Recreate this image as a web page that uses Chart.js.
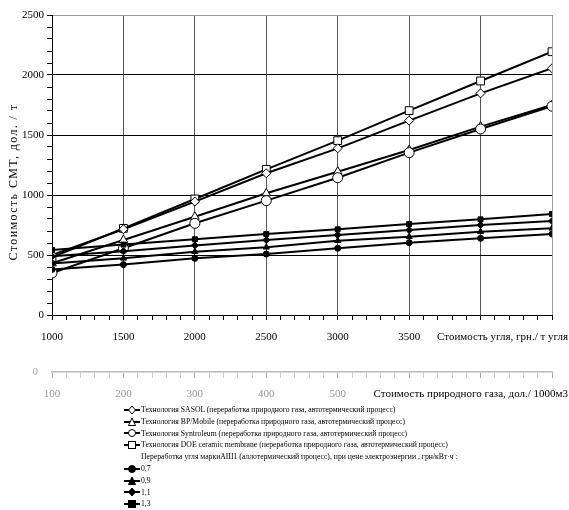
<!DOCTYPE html>
<html>
<head>
<meta charset="utf-8">
<script src="https://cdn.jsdelivr.net/npm/chart.js@4.4.1/dist/chart.umd.min.js"></script>
<style>
body { margin: 0; background: #fff; }
#wrap { position: relative; width: 569px; height: 510px; }
#legend { position: absolute; left: 124px; top: 404px; font-family: "Liberation Serif", serif; font-size: 7.7px; line-height: 11.8px; color: #000; white-space: nowrap; }
#legend .row { height: 11.8px; display: flex; align-items: center; }
#legend svg { margin-right: 1px; }
#legend .head { padding-left: 17px; }
</style>
</head>
<body>
<div id="wrap">
  <canvas id="chartCost" width="569" height="510"></canvas>
  <div id="legend"></div>
</div>
<script>
// coal price, грн./т угля
var coalPrice = [1000, 1500, 2000, 2500, 3000, 3500, 4000, 4500];
// gas price labels (second axis), дол./1000м3
var gasTicks = [100, 200, 300, 400, 500];

// cost of synthetic motor fuel, дол./т
var sasol      = [500, 715, 945, 1181, 1389, 1620, 1847, 2056];
var bpMobile   = [430, 625, 819, 1014, 1194, 1375, 1570, 1750];
var syntroleum = [350, 556, 764, 953, 1144, 1353, 1550, 1740];
var doe        = [480, 722, 967, 1214, 1453, 1703, 1950, 2194];
var coal07     = [380, 420, 472, 508, 556, 603, 639, 675];
var coal09     = [430, 472, 528, 564, 619, 653, 694, 722];
var coal11     = [490, 532, 580, 625, 667, 708, 750, 783];
var coal13     = [542, 587, 631, 675, 714, 758, 797, 842];

var seriesLabels = [
    'Технология SASOL (переработка природного газа, автотермический процесс)',
    'Технология BP/Mobile (переработка природного газа, автотермический процесс)',
    'Технология Syntroleum (переработка природного газа, автотермический процесс)',
    'Технология DOE ceramic membrane (переработка природного газа, автотермический процесс)',
    '0,7', '0,9', '1,1', '1,3'
];
var coalHeader = 'Переработка угля маркиАШ1 (аллотермический процесс), при цене электроэнергии , грн/кВт·ч :';
var coalTitle = 'Стоимость угля, грн./ т угля';
var gasTitle = 'Стоимость природного газа, дол./ 1000м3';
var yTitle = 'Стоимость СМТ, дол. / т';

function pts(values) {
    return values.map(function(v, i) { return {x: coalPrice[i], y: v}; });
}

function series(label, values, style, radius, filled) {
    return {
        label: label,
        data: pts(values),
        xAxisID: 'x',
        borderColor: '#000',
        borderWidth: 2,
        pointStyle: style,
        pointRadius: radius,
        pointBorderWidth: 1,
        pointBackgroundColor: filled ? '#000' : '#fff',
        pointBorderColor: '#000',
        fill: false,
        tension: 0
    };
}

var datasets = [
    series(seriesLabels[4], coal07, 'circle', 3, true),
    series(seriesLabels[5], coal09, 'triangle', 3.5, true),
    series(seriesLabels[6], coal11, 'rectRot', 3.5, true),
    series(seriesLabels[7], coal13, 'rect', 3.5, true),
    series(seriesLabels[2], syntroleum, 'circle', 5, false),
    series(seriesLabels[1], bpMobile, 'triangle', 5, false),
    series(seriesLabels[0], sasol, 'rectRot', 4.5, false),
    series(seriesLabels[3], doe, 'rect', 5.5, false)
];

var serif = 'Liberation Serif';

// axis titles: x titles sit on the tick label rows, y title is letter-spaced
var axisText = {
    id: 'axisText',
    afterDraw: function(chart) {
        var ctx = chart.ctx, x = chart.scales.x, x2 = chart.scales.x2;
        ctx.save();
        ctx.font = '11px "' + serif + '"';
        ctx.textAlign = 'right';
        ctx.textBaseline = 'middle';
        ctx.fillStyle = '#000';
        ctx.fillText(coalTitle, 568, x.top + 22);
        ctx.fillText(gasTitle, 568, x2.top + 22);
        ctx.fillStyle = '#aaa';
        ctx.fillText('0', 38, x2.top);

        ctx.translate(14, 182);
        ctx.rotate(-Math.PI / 2);
        ctx.textAlign = 'center';
        ctx.fillStyle = '#000';
        ctx.font = '12px "' + serif + '"';
        ctx.letterSpacing = '1.4px';
        ctx.fillText(yTitle, 0, 0);
        ctx.restore();
    }
};

var ctx = document.getElementById('chartCost');
var costChart = new Chart(ctx, {
    type: 'line',
    data: { datasets: datasets },
    plugins: [axisText],
    options: {
        responsive: false,
        animation: false,
        layout: { padding: { top: 15, right: 17, bottom: 98, left: 0 } },
        plugins: {
            legend: { display: false },
            tooltip: { enabled: false }
        },
        scales: {
            x: {
                type: 'linear', position: 'bottom', min: 1000, max: 4500,
                ticks: {
                    stepSize: 100, autoSkip: false, maxRotation: 0, padding: 11, color: '#000',
                    font: { family: serif, size: 11 },
                    callback: function(v) { return (v % 500 === 0 && v <= 3500) ? v : ''; }
                },
                grid: {
                    color: function(c) {
                        if (!c.tick || c.tick.value % 500 !== 0) return 'rgba(0,0,0,0)';
                        return c.tick.value === 4500 ? '#999' : '#555';
                    },
                    tickColor: '#000', tickLength: 5
                },
                border: { color: '#000', width: 1 },
                afterFit: function(s) { s.height = 57; }
            },
            x2: {
                type: 'linear', position: 'bottom', min: 100, max: 800,
                ticks: {
                    stepSize: 20, autoSkip: false, maxRotation: 0, padding: 10, color: '#999',
                    font: { family: serif, size: 11 },
                    callback: function(v) { return gasTicks.indexOf(v) >= 0 ? v : ''; }
                },
                grid: {
                    drawOnChartArea: false,
                    tickColor: function(c) { return c.tick && c.tick.value % 100 === 0 ? '#aaa' : '#ccc'; },
                    tickLength: 6
                },
                border: { color: '#bbb', width: 1.5 },
                afterFit: function(s) { s.height = 40; }
            },
            y: {
                type: 'linear', min: 0, max: 2500,
                ticks: {
                    stepSize: 100, autoSkip: false, padding: 3, color: '#000',
                    font: { family: serif, size: 11 },
                    callback: function(v) { return v % 500 === 0 ? v : ''; }
                },
                grid: {
                    color: function(c) {
                        if (!c.tick || c.tick.value % 500 !== 0) return 'rgba(0,0,0,0)';
                        return c.tick.value === 2500 ? '#999' : '#000';
                    },
                    tickColor: '#000', tickLength: 5
                },
                border: { color: '#000', width: 1 },
                afterFit: function(s) { s.width = 52; }
            }
        }
    }
});

// html legend, same order as the reference
function markerSvg(style, filled) {
    var f = filled ? '#000' : '#fff';
    var shape;
    if (style === 'rectRot') shape = '<polygon points="8,1 11.5,5 8,9 4.5,5" fill="' + f + '" stroke="#000"/>';
    else if (style === 'triangle') shape = '<polygon points="8,1 11.5,8.5 4.5,8.5" fill="' + f + '" stroke="#000"/>';
    else if (style === 'rect') shape = '<rect x="4.5" y="1.5" width="7" height="7" fill="' + f + '" stroke="#000"/>';
    else shape = '<circle cx="8" cy="5" r="3.5" fill="' + f + '" stroke="#000"/>';
    return '<svg width="16" height="10"><line x1="0" y1="5" x2="16" y2="5" stroke="#000" stroke-width="2"/>' + shape + '</svg>';
}

var legendRows = [
    [seriesLabels[0], 'rectRot', false],
    [seriesLabels[1], 'triangle', false],
    [seriesLabels[2], 'circle', false],
    [seriesLabels[3], 'rect', false],
    [coalHeader, null, false],
    [seriesLabels[4], 'circle', true],
    [seriesLabels[5], 'triangle', true],
    [seriesLabels[6], 'rectRot', true],
    [seriesLabels[7], 'rect', true]
];
var html = '';
legendRows.forEach(function(r) {
    if (r[1] === null) html += '<div class="row head">' + r[0] + '</div>';
    else html += '<div class="row">' + markerSvg(r[1], r[2]) + '<span>' + r[0] + '</span></div>';
});
document.getElementById('legend').innerHTML = html;
</script>
</body>
</html>
